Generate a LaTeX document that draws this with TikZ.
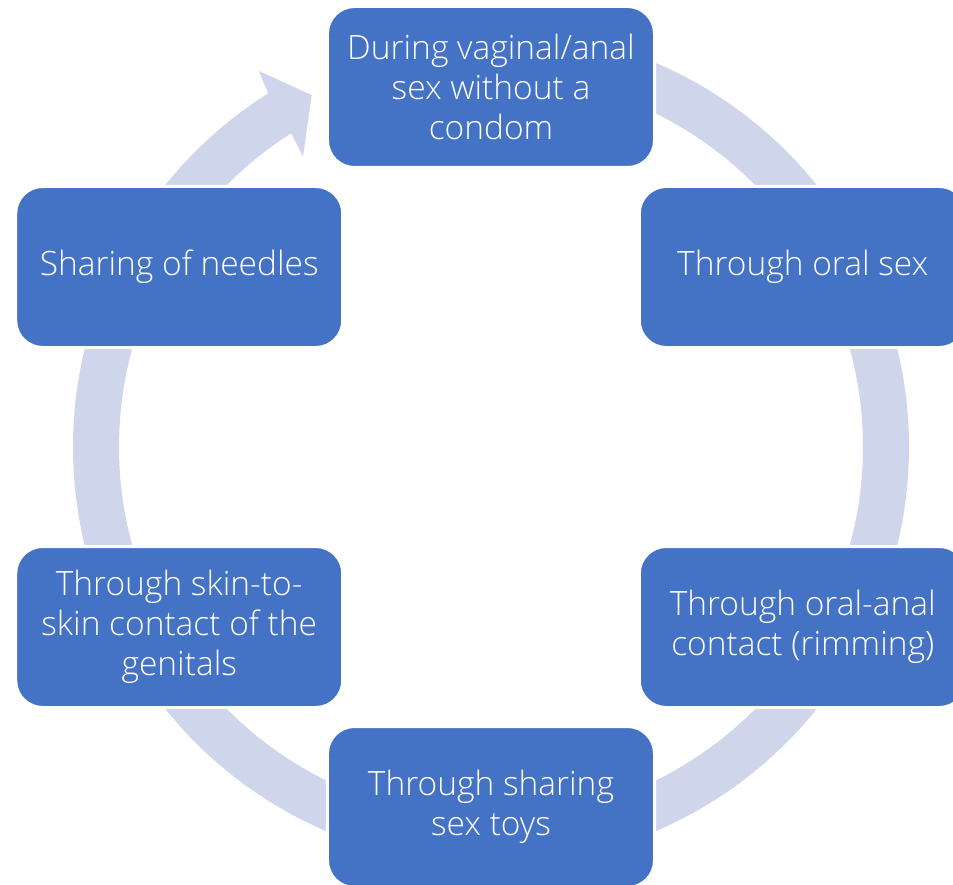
\documentclass[tikz,border=0pt]{standalone}
\usepackage{fontspec}
\setmainfont{Open Sans Light}
\usepackage{tikz}

\definecolor{boxblue}{HTML}{4472C4}
\definecolor{ringfill}{HTML}{CFD5EA}

\tikzset{
  waybox/.style={rectangle, rounded corners=27pt, fill=boxblue, draw=white, line width=3pt,
    minimum width=327pt, minimum height=161pt, text=white, align=center,
    font=\fontsize{33.5}{40}\selectfont},
}

\begin{document}
\begin{tikzpicture}[x=1pt,y=1pt]

\useasboundingbox (-491,-437) rectangle (462,447);

% ring segments between the boxes
\foreach \a/\b in {80/30, 30/-30, -30/-80, -100/-150, 210/150}
  \fill[ringfill] (\a:418) arc[start angle=\a, end angle=\b, radius=418]
    -- (\b:372) arc[start angle=\b, end angle=\a, radius=372] -- cycle;

% segment with arrow head
\fill[ringfill] (150:418) arc[start angle=150, end angle=122.2, radius=418]
  -- (121.7:442) -- (117:395) -- (122.9:346) -- (122.5:372)
  arc[start angle=122.5, end angle=150, radius=372] -- cycle;

\node[waybox] (vaginal) at (90:360) {During vaginal/anal\\sex without a\\condom};
\node[waybox] (oral) at (30:360) {Through oral sex};
\node[waybox] (rimming) at (-30:360) {Through oral-anal\\contact (rimming)};
\node[waybox] (toys) at (-90:360) {Through sharing\\sex toys};
\node[waybox] (skin) at (-150:360) {Through skin-to-\\skin contact of the\\genitals};
\node[waybox] (needles) at (150:360) {Sharing of needles};

\end{tikzpicture}
\end{document}
